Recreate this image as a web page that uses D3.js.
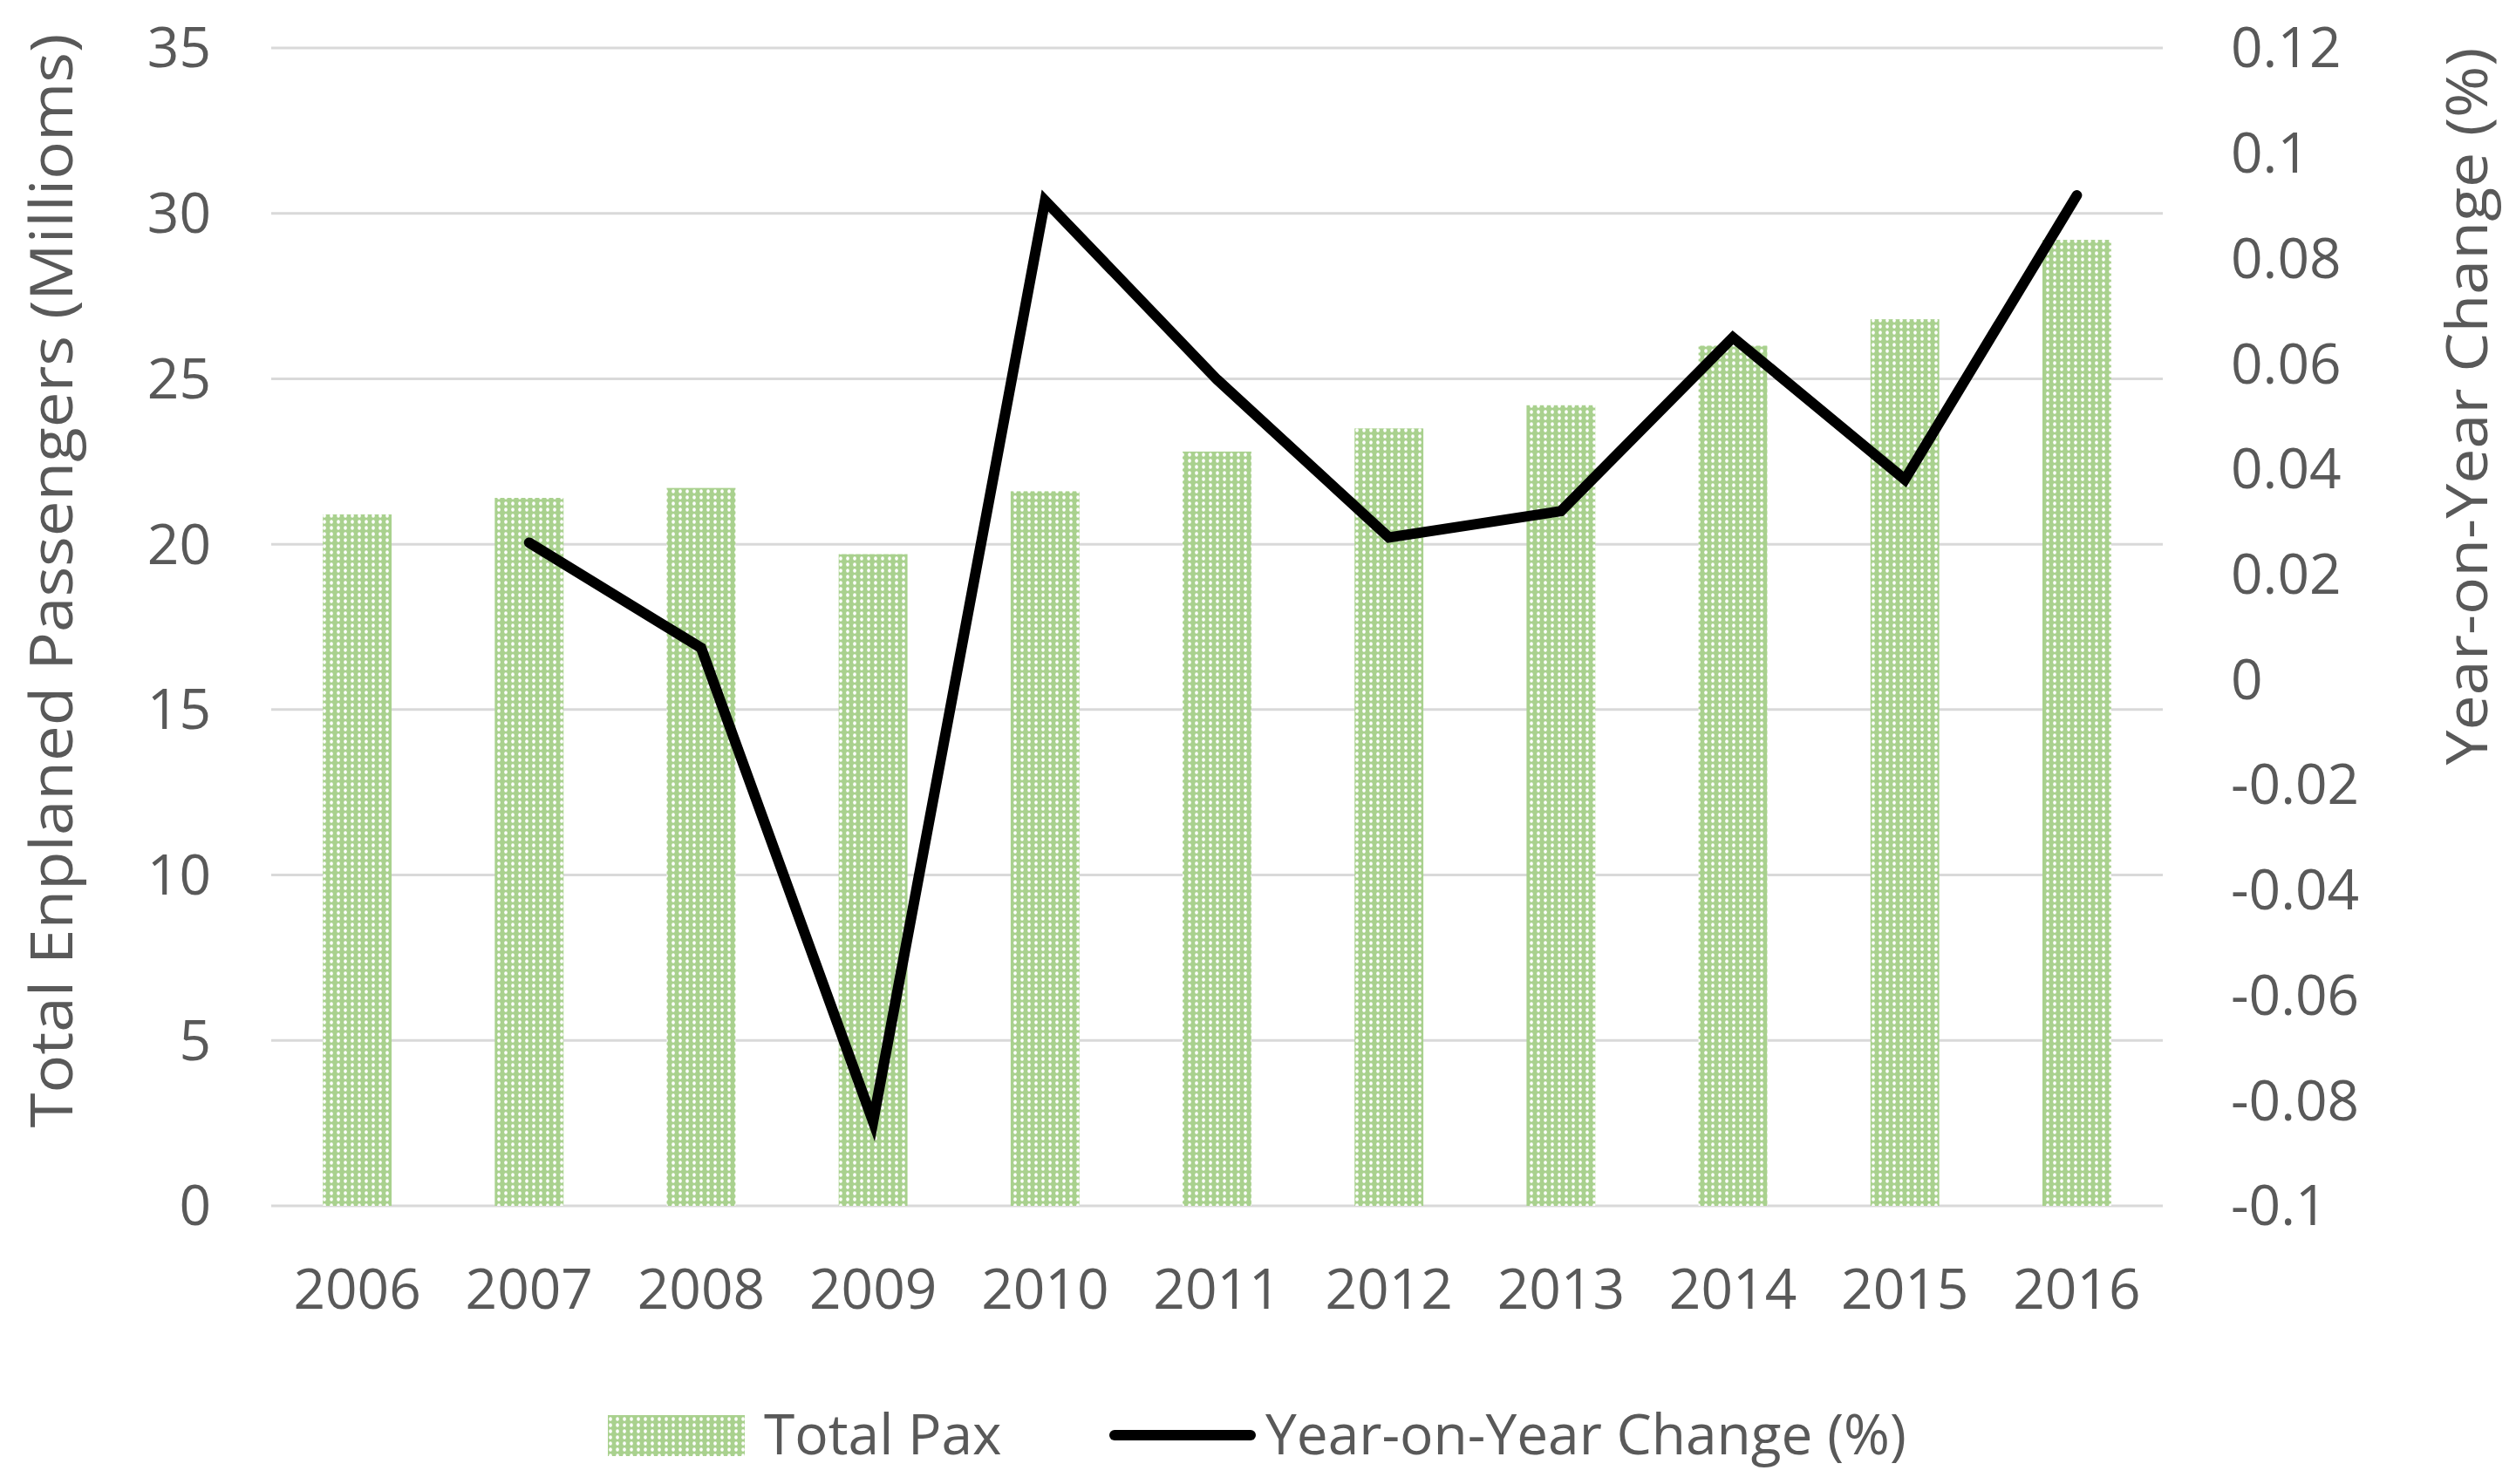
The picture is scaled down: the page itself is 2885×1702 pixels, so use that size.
<!DOCTYPE html>
<html>
<head>
<meta charset="utf-8">
<script src="https://cdn.jsdelivr.net/npm/d3@7"></script>
<style>
  body { margin: 0; background: #fff; }
  text { font-family: "Open Sans", "Noto Sans", sans-serif; fill: #595959; }
</style>
</head>
<body>
<div id="chart"></div>
<script>
// data
const years = ["2006", "2007", "2008", "2009", "2010", "2011", "2012", "2013", "2014", "2015", "2016"];
const totalPax = [20.9, 21.4, 21.7, 19.7, 21.6, 22.8, 23.5, 24.2, 26.0, 26.8, 29.2];
const yoyChange = [null, 0.026, 0.006, -0.084, 0.091, 0.057, 0.027, 0.032, 0.065, 0.038, 0.092];
const leftTicks = [0, 5, 10, 15, 20, 25, 30, 35];
const rightTicks = [-0.1, -0.08, -0.06, -0.04, -0.02, 0, 0.02, 0.04, 0.06, 0.08, 0.1, 0.12];

const width = 2885;
const height = 1702;
const plot = { left: 311, right: 2480, top: 55, bottom: 1383 };

const svg = d3.select('#chart')
    .append('svg')
    .attr('width', width)
    .attr('height', height);

svg.append('rect').attr('width', width).attr('height', height).attr('fill', '#fff');

// dotted fill like the excel pattern
const pattern = svg.append('defs')
    .append('pattern')
    .attr('id', 'dots')
    .attr('patternUnits', 'userSpaceOnUse')
    .attr('width', 8)
    .attr('height', 7);
pattern.append('rect').attr('width', 8).attr('height', 7).attr('fill', '#a9d18e');
pattern.append('ellipse').attr('cx', 4).attr('cy', 3.5).attr('rx', 1.8).attr('ry', 2.2).attr('fill', '#fff');

const x = d3.scaleBand()
    .domain(years)
    .range([plot.left, plot.right])
    .paddingInner(0.6)
    .paddingOuter(0.3);

const yLeft = d3.scaleLinear().domain([0, 35]).range([plot.bottom, plot.top]);
const yRight = d3.scaleLinear().domain([-0.1, 0.12]).range([plot.bottom, plot.top]);

// gridlines
svg.append('g')
    .selectAll('line')
    .data(leftTicks)
    .join('line')
    .attr('x1', plot.left)
    .attr('x2', plot.right)
    .attr('y1', d => yLeft(d))
    .attr('y2', d => yLeft(d))
    .attr('stroke', '#d9d9d9')
    .attr('stroke-width', 3);

// left axis labels
svg.append('g')
    .selectAll('text')
    .data(leftTicks)
    .join('text')
    .attr('x', 242)
    .attr('y', d => yLeft(d))
    .attr('dy', '0.35em')
    .attr('text-anchor', 'end')
    .attr('font-size', 64)
    .text(d => d);

// right axis labels (plain hyphen for negatives, as in the original)
svg.append('g')
    .selectAll('text')
    .data(rightTicks)
    .join('text')
    .attr('x', 2558)
    .attr('y', d => yRight(d))
    .attr('dy', '0.35em')
    .attr('font-size', 64)
    .text(d => String(+d.toFixed(2)));

// x labels
svg.append('g')
    .selectAll('text')
    .data(years)
    .join('text')
    .attr('x', d => x(d) + x.bandwidth() / 2)
    .attr('y', 1479)
    .attr('dy', '0.35em')
    .attr('text-anchor', 'middle')
    .attr('font-size', 64)
    .text(d => d);

// bars
svg.append('g')
    .selectAll('rect')
    .data(years)
    .join('rect')
    .attr('x', d => x(d))
    .attr('width', x.bandwidth())
    .attr('y', (d, i) => yLeft(totalPax[i]))
    .attr('height', (d, i) => yLeft(0) - yLeft(totalPax[i]))
    .attr('fill', 'url(#dots)');

// year-on-year line
const line = d3.line()
    .defined(d => d.v !== null)
    .x(d => x(d.year) + x.bandwidth() / 2)
    .y(d => yRight(d.v));

svg.append('path')
    .datum(years.map((year, i) => ({ year: year, v: yoyChange[i] })))
    .attr('d', line)
    .attr('fill', 'none')
    .attr('stroke', '#000')
    .attr('stroke-width', 12)
    .attr('stroke-linejoin', 'miter')
    .attr('stroke-linecap', 'round');

// axis titles
svg.append('text')
    .attr('transform', 'translate(59,666) rotate(-90)')
    .attr('dy', '0.35em')
    .attr('text-anchor', 'middle')
    .attr('font-size', 68)
    .attr('textLength', 1255)
    .attr('lengthAdjust', 'spacingAndGlyphs')
    .text('Total Enplaned Passengers (Millioms)');

svg.append('text')
    .attr('transform', 'translate(2829,466) rotate(-90)')
    .attr('dy', '0.35em')
    .attr('text-anchor', 'middle')
    .attr('font-size', 66)
    .attr('textLength', 823)
    .attr('lengthAdjust', 'spacingAndGlyphs')
    .text('Year-on-Year Change (%)');

// legend
const legend = svg.append('g');
legend.append('rect')
    .attr('x', 697).attr('y', 1623)
    .attr('width', 157).attr('height', 47)
    .attr('fill', 'url(#dots)');
legend.append('text')
    .attr('x', 876).attr('y', 1646)
    .attr('dy', '0.35em')
    .attr('font-size', 64)
    .text('Total Pax');
legend.append('line')
    .attr('x1', 1278).attr('x2', 1434)
    .attr('y1', 1646).attr('y2', 1646)
    .attr('stroke', '#000')
    .attr('stroke-width', 12)
    .attr('stroke-linecap', 'round');
legend.append('text')
    .attr('x', 1451).attr('y', 1646)
    .attr('dy', '0.35em')
    .attr('font-size', 64)
    .text('Year-on-Year Change (%)');
</script>
</body>
</html>
